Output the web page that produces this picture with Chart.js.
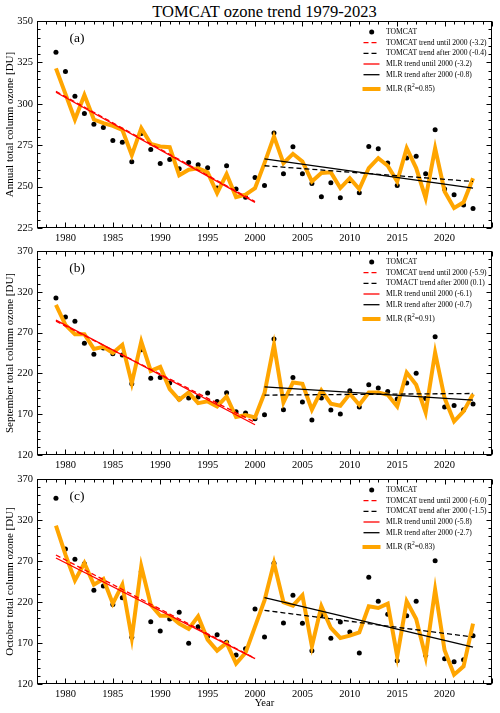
<!DOCTYPE html>
<html>
<head>
<meta charset="utf-8">
<script src="https://cdn.jsdelivr.net/npm/chart.js@4.4.1/dist/chart.umd.min.js"></script>
<style>
  body { margin: 0; background: #fff; width: 500px; height: 713px; position: relative; overflow: hidden; font-family: "Liberation Serif", serif; }
  canvas { position: absolute; left: 0; }
  #title { position: absolute; left: 37px; width: 455px; top: 2px; text-align: center; font-size: 16.5px; line-height: 20px; color: #000; }
</style>
</head>
<body>
<div id="title">TOMCAT ozone trend 1979-2023</div>
<canvas id="chartA" width="500" height="246" style="top:0px"></canvas>
<canvas id="chartB" width="500" height="240" style="top:236px"></canvas>
<canvas id="chartC" width="500" height="249" style="top:464px"></canvas>
<script>
// ---- data ----
const years = [1979, 1980, 1981, 1982, 1983, 1984, 1985, 1986, 1987, 1988, 1989, 1990, 1991, 1992, 1993,
  1994, 1995, 1996, 1997, 1998, 1999, 2000, 2001, 2002, 2003, 2004, 2005, 2006, 2007, 2008, 2009, 2010,
  2011, 2012, 2013, 2014, 2015, 2016, 2017, 2018, 2019, 2020, 2021, 2022, 2023];

const annualTomcat = [331.1, 319.5, 304.6, 294.1, 287.7, 285.7, 277.9, 276.8, 265.0, 282.0, 272.4, 264.0, 266.4, 260.8, 264.6,
  263.2, 261.4, 249.1, 262.6, 248.5, 243.5, 255.5, 250.7, 282.3, 257.8, 274.0, 257.8, 251.9, 243.9, 252.3, 243.3, 253.5,
  246.3, 274.2, 272.8, 264.2, 250.7, 267.2, 268.4, 257.8, 284.3, 248.5, 245.1, 238.9, 236.7];
const annualMlr = [321.4, 306.0, 290.5, 305.3, 290.5, 288.3, 286.7, 284.3, 269.0, 285.3, 275.8, 274.2, 273.8, 256.8, 260.2,
  261.0, 258.6, 246.1, 257.6, 243.7, 245.1, 249.0, 264.2, 280.3, 264.2, 269.8, 265.2, 253.1, 258.2, 258.6, 249.1, 255.1,
  248.5, 261.2, 267.2, 262.6, 253.1, 273.2, 261.2, 243.1, 273.2, 247.1, 237.1, 240.5, 255.1];

const sepTomcat = [312.5, 289.2, 284.0, 256.8, 243.4, 251.0, 244.0, 242.4, 207.3, 249.0, 214.0, 215.0, 208.1, 188.5, 189.7,
  191.0, 195.9, 185.7, 196.3, 173.0, 171.4, 164.5, 169.4, 262.3, 175.5, 215.0, 184.8, 162.8, 189.7, 175.1, 170.2, 198.7,
  178.7, 206.1, 202.0, 197.9, 188.5, 208.1, 220.3, 189.3, 264.8, 178.7, 180.8, 175.5, 182.4];
const sepMlr = [303.9, 279.5, 268.0, 268.0, 250.0, 252.5, 245.0, 255.0, 208.1, 259.0, 223.0, 228.0, 200.8, 187.7, 196.7,
  183.6, 185.7, 179.5, 191.8, 166.5, 168.9, 166.1, 195.9, 255.0, 184.4, 208.9, 207.3, 175.5, 199.1, 182.8, 180.4, 195.0,
  181.6, 196.7, 196.7, 193.8, 179.5, 221.1, 206.1, 172.2, 245.6, 189.7, 161.2, 173.4, 194.6];

const octTomcat = [346.4, 284.6, 272.0, 266.5, 234.2, 239.5, 217.0, 225.3, 176.9, 257.0, 196.0, 184.6, 199.3, 207.4, 169.6,
  189.9, 178.1, 180.2, 170.8, 155.4, 163.1, 211.5, 177.3, 267.2, 194.4, 228.1, 194.0, 160.7, 204.6, 175.7, 195.6, 183.4,
  157.8, 250.1, 220.8, 205.0, 148.5, 203.3, 220.8, 155.0, 270.4, 150.9, 147.2, 149.7, 178.9];
const octMlr = [313.1, 277.7, 246.4, 267.6, 241.1, 248.0, 218.0, 241.1, 176.1, 263.5, 216.7, 203.3, 203.3, 193.6, 187.1,
  202.5, 174.1, 160.7, 170.0, 144.8, 158.0, 190.0, 222.0, 267.6, 219.6, 215.5, 228.1, 166.0, 214.7, 188.3, 176.1, 178.9,
  183.0, 214.7, 212.7, 218.0, 153.7, 220.8, 199.3, 152.9, 235.0, 161.1, 131.4, 141.5, 193.6];

// trend lines: start / end values
const preYears = [1979, 2000];
const postYears = [2001, 2023];
const annualTomcatPre = [307.5, 241.0];
const annualTomcatPost = [262.6, 253.1];
const annualMlrPre = [307.0, 240.5];
const annualMlrPost = [266.8, 249.1];
const sepTomcatPre = [284.0, 160.0];
const sepTomcatPost = [193.4, 195.4];
const sepMlrPre = [285.2, 157.1];
const sepMlrPost = [203.6, 187.3];
const octTomcatPre = [277.3, 151.3];
const octTomcatPost = [209.8, 177.3];
const octMlrPre = [273.7, 150.9];
const octMlrPost = [225.3, 165.1];

const xTicks = [1980, 1985, 1990, 1995, 2000, 2005, 2010, 2015, 2020];
const annualTicks = [225, 250, 275, 300, 325, 350];
const monthTicks = [120, 170, 220, 270, 320, 370];

const legendA = ['TOMCAT', 'TOMCAT trend until 2000 (-3.2)', 'TOMCAT trend after 2000 (-0.4)', 'MLR trend until 2000 (-3.2)', 'MLR trend after 2000 (-0.8)', 'MLR (R²=0.85)'];
const legendB = ['TOMCAT', 'TOMCAT trend until 2000 (-5.9)', 'TOMACT trend after 2000 (0.1)', 'MLR trend until 2000 (-6.1)', 'MLR trend after 2000 (-0.7)', 'MLR (R²=0.91)'];
const legendC = ['TOMCAT', 'TOMCAT trend until 2000 (-6.0)', 'TOMCAT trend after 2000 (-1.5)', 'MLR trend until 2000 (-5.8)', 'MLR trend after 2000 (-2.7)', 'MLR (R²=0.83)'];

// ---- drawing ----
const SERIF = '"Liberation Serif", "Times New Roman", serif';
const ORANGE = '#ffa500';
const RED = '#ff0000';
const pts = (xs, ys) => xs.map((x, i) => ({ x: x, y: ys[i] }));

// frame with inward ticks on all sides, panel letter and legend
const panelPlugin = {
  id: 'panel',
  afterDraw(chart, args, o) {
    const { ctx, chartArea: a, scales: { x, y } } = chart;
    ctx.save();
    ctx.strokeStyle = '#000';
    ctx.lineWidth = 1;
    const L = Math.round(a.left) + 0.5, R = Math.round(a.right) - 0.5;
    const T = Math.round(a.top) + 0.5, B = Math.round(a.bottom) - 0.5;
    ctx.strokeRect(L, T, R - L, B - T);
    ctx.beginPath();
    for (let v = x.min; v <= x.max; v++) {
      const len = v % 5 === 0 ? 5 : 3;
      const px = Math.round(x.getPixelForValue(v)) + 0.5;
      ctx.moveTo(px, B); ctx.lineTo(px, B - len);
      ctx.moveTo(px, T); ctx.lineTo(px, T + len);
    }
    for (let v = y.min; v <= y.max; v += o.minor) {
      const len = o.ticks.includes(v) ? 5 : 3;
      const py = Math.round(y.getPixelForValue(v)) + 0.5;
      ctx.moveTo(L, py); ctx.lineTo(L + len, py);
      ctx.moveTo(R, py); ctx.lineTo(R - len, py);
    }
    ctx.stroke();

    ctx.fillStyle = '#000';
    ctx.font = '13.5px ' + SERIF;
    ctx.textAlign = 'center';
    ctx.textBaseline = 'middle';
    ctx.fillText(o.letter, a.left + 40, a.top + 17);

    // legend
    const rows = [11, 21.7, 32.3, 43, 53.7, 68];
    ctx.textAlign = 'left';
    o.labels.forEach((label, i) => {
      const ds = chart.data.datasets[i];
      const ly = a.top + rows[i];
      ctx.save();
      if (i === 0) {
        ctx.beginPath();
        ctx.arc(371.7, ly, 2.5, 0, Math.PI * 2);
        ctx.fillStyle = ds.pointBackgroundColor;
        ctx.fill();
      } else {
        ctx.beginPath();
        ctx.strokeStyle = ds.borderColor;
        ctx.lineWidth = ds.borderWidth;
        ctx.setLineDash(ds.borderDash || []);
        if (i === 5) { ctx.moveTo(362.5, ly); ctx.lineTo(380.5, ly); }
        else { ctx.moveTo(363.5, ly); ctx.lineTo(379.5, ly); }
        ctx.stroke();
      }
      ctx.restore();
      ctx.font = '7.6px ' + SERIF;
      const parts = label.split('²');
      let tx = 386;
      ctx.fillText(parts[0], tx, ly);
      if (parts.length > 1) {
        tx += ctx.measureText(parts[0]).width;
        ctx.font = '5.5px ' + SERIF;
        ctx.fillText('2', tx, ly - 3);
        tx += ctx.measureText('2').width;
        ctx.font = '7.6px ' + SERIF;
        ctx.fillText(parts[1], tx, ly);
      }
    });
    ctx.restore();
  }
};

function makePanel(id, cfg) {
  const tickFont = { family: SERIF, size: 10.5 };
  const datasets = [
    { data: pts(years, cfg.tomcat), showLine: false, pointRadius: 2.5, pointBorderWidth: 0, pointBackgroundColor: '#000', order: 3 },
    { data: pts(preYears, cfg.tomcatPre), borderColor: RED, borderWidth: 1.3, borderDash: [5, 3], pointRadius: 0, order: 0 },
    { data: pts(postYears, cfg.tomcatPost), borderColor: '#000', borderWidth: 1.3, borderDash: [5, 3], pointRadius: 0, order: 0 },
    { data: pts(preYears, cfg.mlrPre), borderColor: RED, borderWidth: 1.3, pointRadius: 0, order: 0 },
    { data: pts(postYears, cfg.mlrPost), borderColor: '#000', borderWidth: 1.3, pointRadius: 0, order: 0 },
    { data: pts(years, cfg.mlr), borderColor: ORANGE, borderWidth: 4, pointRadius: 0, borderJoinStyle: 'miter', order: 1 }
  ];
  return new Chart(document.getElementById(id), {
    type: 'line',
    data: { datasets: datasets },
    plugins: [panelPlugin],
    options: {
      responsive: false,
      animation: false,
      layout: { padding: { top: cfg.padTop, right: 8, left: 0, bottom: 0 } },
      plugins: {
        legend: { display: false },
        tooltip: { enabled: false },
        panel: { letter: cfg.letter, labels: cfg.labels, ticks: cfg.yTicks, minor: cfg.minor }
      },
      scales: {
        x: {
          type: 'linear', min: 1977, max: 2025,
          grid: { display: false, drawTicks: false },
          border: { display: false },
          afterBuildTicks: s => { s.ticks = xTicks.map(v => ({ value: v })); },
          afterFit: s => { s.height = cfg.xHeight; },
          ticks: { padding: 4, font: tickFont, color: '#000', maxRotation: 0, callback: v => String(v) },
          title: { display: !!cfg.xTitle, text: cfg.xTitle || '', color: '#000', font: { family: SERIF, size: 10.5 }, padding: { top: 0, bottom: 3 } }
        },
        y: {
          min: cfg.yTicks[0], max: cfg.yTicks[cfg.yTicks.length - 1],
          grid: { display: false, drawTicks: false },
          border: { display: false },
          afterBuildTicks: s => { s.ticks = cfg.yTicks.map(v => ({ value: v })); },
          afterFit: s => { s.width = 37; },
          ticks: { padding: 4, font: tickFont, color: '#000', callback: v => String(v) },
          title: { display: true, text: cfg.yTitle, color: '#000', font: { family: SERIF, size: 11 }, padding: { top: 4, bottom: 0 } }
        }
      }
    }
  });
}

makePanel('chartA', {
  tomcat: annualTomcat, mlr: annualMlr,
  tomcatPre: annualTomcatPre, tomcatPost: annualTomcatPost, mlrPre: annualMlrPre, mlrPost: annualMlrPost,
  yTicks: annualTicks, minor: 5, yTitle: 'Annual total column ozone [DU]',
  letter: '(a)', labels: legendA, padTop: 21, xHeight: 18
});
makePanel('chartB', {
  tomcat: sepTomcat, mlr: sepMlr,
  tomcatPre: sepTomcatPre, tomcatPost: sepTomcatPost, mlrPre: sepMlrPre, mlrPost: sepMlrPost,
  yTicks: monthTicks, minor: 10, yTitle: 'September total column ozone [DU]',
  letter: '(b)', labels: legendB, padTop: 15, xHeight: 21
});
makePanel('chartC', {
  tomcat: octTomcat, mlr: octMlr,
  tomcatPre: octTomcatPre, tomcatPost: octTomcatPost, mlrPre: octMlrPre, mlrPost: octMlrPost,
  yTicks: monthTicks, minor: 10, yTitle: 'October total column ozone [DU]', xTitle: 'Year',
  letter: '(c)', labels: legendC, padTop: 15, xHeight: 29
});
</script>
</body>
</html>
